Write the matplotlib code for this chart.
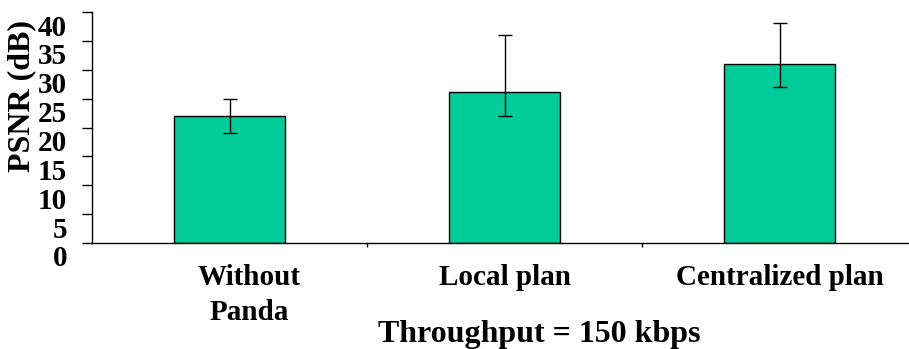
import matplotlib
matplotlib.use("Agg")
import matplotlib.pyplot as plt
import matplotlib.transforms as mtransforms

categories = ["Without\nPanda", "Local plan", "Centralized plan"]
psnr = [22.0, 26.2, 31.0]
err_lower = [3.0, 4.2, 4.0]
err_upper = [3.0, 9.8, 7.1]
yticks = [0, 5, 10, 15, 20, 25, 30, 35, 40]

plt.rcParams['font.family'] = ['Liberation Serif', 'DejaVu Serif']
plt.rcParams['font.weight'] = 'bold'

W, H = 909, 349
fig = plt.figure(figsize=(W / 100, H / 100), dpi=100)
ax = fig.add_axes([92 / W, (H - 243) / H, (W - 92) / W, (243 - 12) / H])

x = list(range(len(categories)))
ax.bar(x, psnr, width=0.405, color='#00CC99', edgecolor='black', linewidth=1.0, zorder=2)
ax.errorbar(x, psnr, yerr=[err_lower, err_upper], fmt='none', ecolor='black',
            elinewidth=1.0, capsize=5, capthick=1.0, zorder=3)

ax.set_xlim(-0.5, 2.47)
ax.set_ylim(0, 40)
ax.set_yticks(yticks)
ax.set_yticklabels([str(v) for v in yticks], fontsize=21, fontweight='bold')
ax.tick_params(axis='y', direction='out', length=7, width=1, pad=11)

ax.set_xticks(x)
ax.set_xticklabels(categories, fontsize=21, fontweight='bold', linespacing=1.4)
ax.set_xticks([0.5, 1.5], minor=True)
ax.tick_params(axis='x', which='major', length=0, pad=15)
ax.tick_params(axis='x', which='minor', direction='out', length=3, width=1)

for s in ['top', 'right']:
    ax.spines[s].set_visible(False)
for s in ['left', 'bottom']:
    ax.spines[s].set_linewidth(1.0)
    ax.spines[s].set_color('black')

# shift y tick labels down
off = mtransforms.ScaledTranslation(0, -13 / 100, fig.dpi_scale_trans)
for lab in ax.get_yticklabels():
    lab.set_transform(lab.get_transform() + off)
# first category label shifted right
off2 = mtransforms.ScaledTranslation(20 / 100, 0, fig.dpi_scale_trans)
labs = ax.get_xticklabels()
labs[0].set_transform(labs[0].get_transform() + off2)

ax.set_ylabel("PSNR (dB)", fontsize=23, fontweight='bold', va='center')
ax.yaxis.set_label_coords(22 / W, 1 - 96 / H, transform=fig.transFigure)

fig.text(539 / W, 7 / H, "Throughput = 150 kbps", ha='center', va='baseline',
         fontsize=23, fontweight='bold')

fig.savefig("out.png", dpi=100)
